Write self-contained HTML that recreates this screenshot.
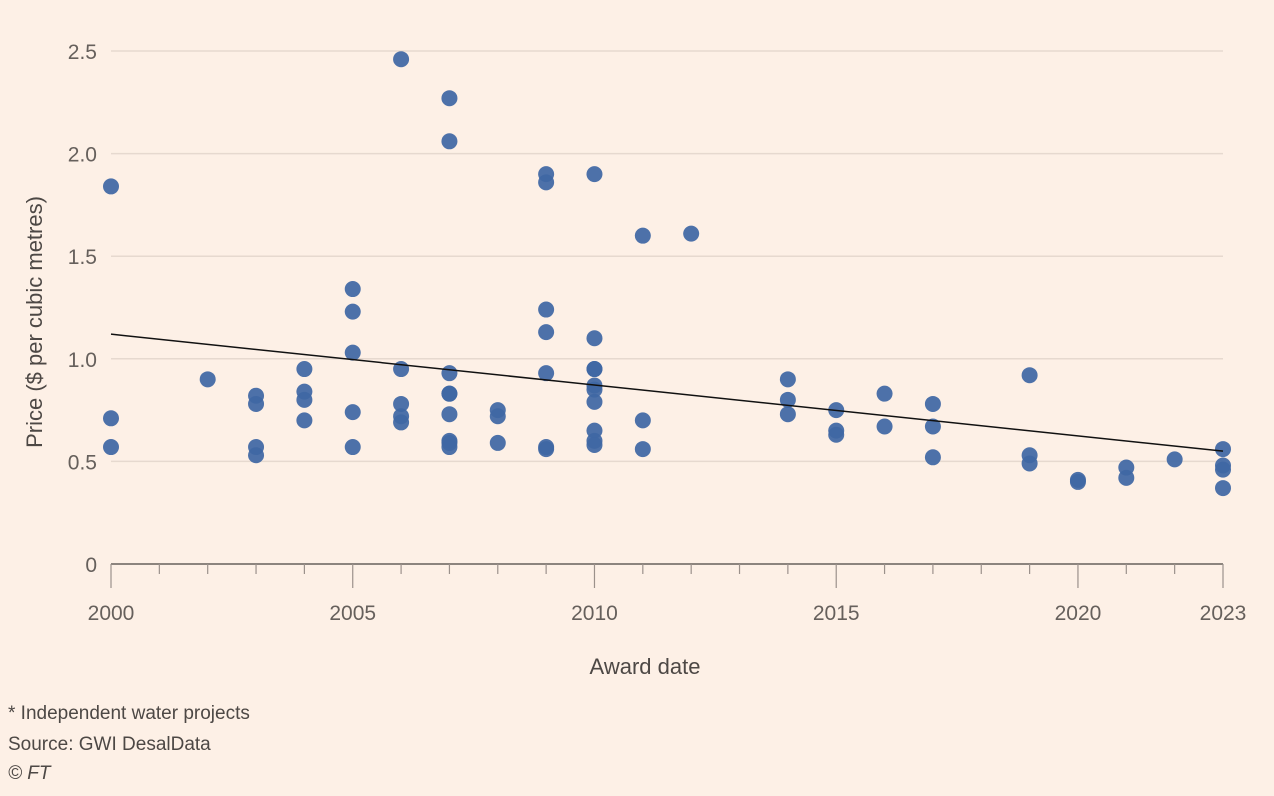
<!DOCTYPE html>
<html><head><meta charset="utf-8"><style>
html,body{margin:0;padding:0;background:#fdf0e6;}
body{width:1274px;height:796px;overflow:hidden;font-family:"Liberation Sans",sans-serif;}
</style></head><body>
<svg id="chart" width="1274" height="796" xmlns="http://www.w3.org/2000/svg" style="display:block">
<rect width="1274" height="796" fill="#fdf0e6"/>
<g id="grid"></g>
<g id="yticks"></g>
<g id="xaxis"></g>
<g id="dots"></g>
<g id="trend"></g>
<text transform="translate(42,322) rotate(-90)" text-anchor="middle" font-size="22" fill="#4d4845">Price ($ per cubic metres)</text>
<text x="645" y="674" text-anchor="middle" font-size="22" fill="#4d4845">Award date</text>
<text x="8" y="719" font-size="19" fill="#4d4845">* Independent water projects</text>
<text x="8" y="750" font-size="19" fill="#4d4845">Source: GWI DesalData</text>
<text x="8" y="779" font-size="19" font-style="italic" fill="#4d4845">© FT</text>
</svg>
<script>
const years=[2000,2000,2000,2002,2003,2003,2003,2003,2004,2004,2004,2004,2005,2005,2005,2005,2005,2006,2006,2006,2006,2006,2007,2007,2007,2007,2007,2007,2007,2007,2007,2008,2008,2008,2009,2009,2009,2009,2009,2009,2009,2010,2010,2010,2010,2010,2010,2010,2010,2010,2010,2011,2011,2011,2012,2014,2014,2014,2015,2015,2015,2016,2016,2017,2017,2017,2019,2019,2019,2020,2020,2021,2021,2022,2023,2023,2023,2023];
const prices=[1.84,0.71,0.57,0.90,0.82,0.78,0.57,0.53,0.95,0.84,0.80,0.70,1.34,1.23,1.03,0.74,0.57,2.46,0.95,0.78,0.72,0.69,2.27,2.06,0.93,0.83,0.83,0.73,0.60,0.59,0.57,0.75,0.72,0.59,1.90,1.86,1.24,1.13,0.93,0.57,0.56,1.90,1.10,0.95,0.95,0.87,0.85,0.79,0.65,0.60,0.58,1.60,0.70,0.56,1.61,0.90,0.80,0.73,0.75,0.65,0.63,0.83,0.67,0.78,0.67,0.52,0.92,0.53,0.49,0.41,0.40,0.47,0.42,0.51,0.56,0.48,0.46,0.37];
const yTicks=[0,0.5,1.0,1.5,2.0,2.5];
const yTickLabels=["0","0.5","1.0","1.5","2.0","2.5"];
const xLabelYears=[2000,2005,2010,2015,2020,2023];
const trendYears=[2000,2023];
const trendValues=[1.12,0.55];
const NS="http://www.w3.org/2000/svg";
const X0=111,X1=1223,Y0=564,Y1=51;
function xs(v){return X0+(v-2000)*(X1-X0)/23;}
function ys(v){return Y0-v*(Y0-Y1)/2.5;}
function mk(tag,attrs,parent){const e=document.createElementNS(NS,tag);for(const k in attrs)e.setAttribute(k,attrs[k]);parent.appendChild(e);return e;}
const grid=document.getElementById('grid'),yt=document.getElementById('yticks'),xa=document.getElementById('xaxis'),dots=document.getElementById('dots'),tr=document.getElementById('trend');
yTicks.forEach((t,i)=>{
 if(t>0){const l=mk('line',{x1:X0,x2:X1,y1:ys(t),y2:ys(t),stroke:'#e6d9cf','stroke-width':1.5},grid);
 
 }
 const tx=mk('text',{x:97,y:ys(t)+8,'text-anchor':'end','font-size':21,fill:'#66605c'},yt);
 tx.textContent=yTickLabels[i];
 
 
});
const ax=mk('line',{x1:X0,x2:X1,y1:Y0,y2:Y0,stroke:'#66605c','stroke-width':1.5},xa);


for(let y=2000;y<=2023;y++){
 const major=xLabelYears.includes(y);
 const t=mk('line',{x1:xs(y),x2:xs(y),y1:Y0,y2:Y0+(major?24:10),stroke:'#9b918b','stroke-width':1.2},xa);
 
 
}
xLabelYears.forEach(y=>{
 const tx=mk('text',{x:xs(y),y:620,'text-anchor':'middle','font-size':21,fill:'#66605c'},xa);
 tx.textContent=String(y);
 
 
});
years.forEach((y,i)=>{
 const c=mk('circle',{cx:xs(y),cy:ys(prices[i]),r:8,fill:'#3f67a4','fill-opacity':0.93},dots);
 
 
});
const tl=mk('line',{x1:xs(trendYears[0]),y1:ys(trendValues[0]),x2:xs(trendYears[1]),y2:ys(trendValues[1]),stroke:'#111','stroke-width':1.5},tr);


</script>
</body></html>
